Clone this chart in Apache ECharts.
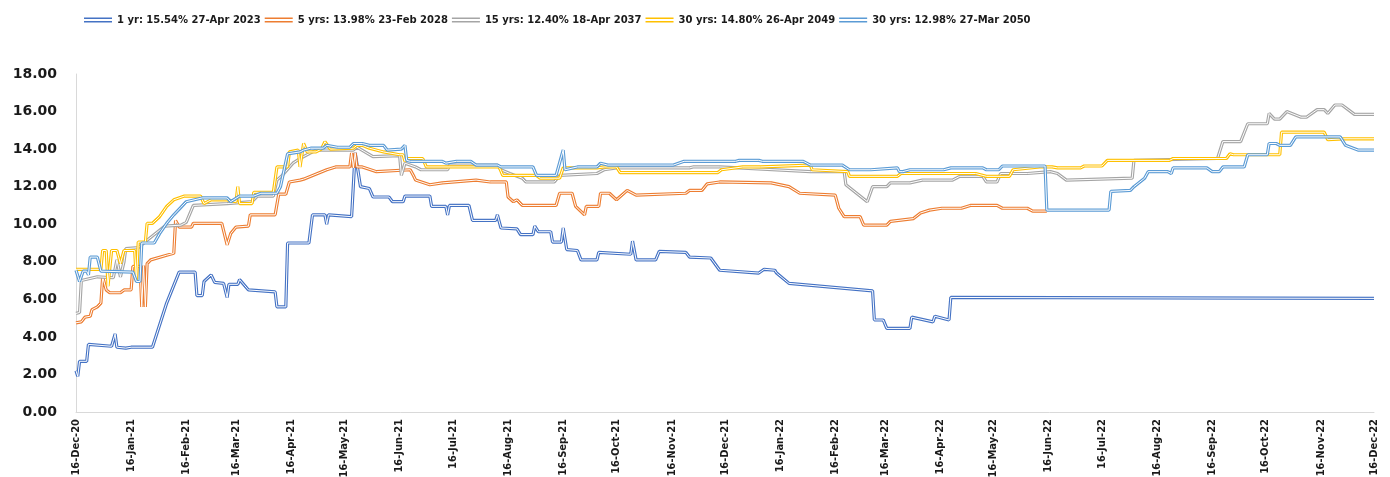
<!DOCTYPE html>
<html>
<head>
<meta charset="utf-8">
<script src="https://cdn.jsdelivr.net/npm/echarts@6/dist/echarts.min.js"></script>
<style>
  html, body { margin: 0; padding: 0; background: #fff; }
  #yield-chart { width: 1390px; height: 477px; }
</style>
</head>
<body>
<div id="yield-chart"></div>
<script>
// series names as in legend
const seriesNames = [
  "1 yr: 15.54% 27-Apr 2023",
  "5 yrs: 13.98% 23-Feb 2028",
  "15 yrs: 12.40% 18-Apr 2037",
  "30 yrs: 14.80% 26-Apr 2049",
  "30 yrs: 12.98% 27-Mar 2050",
];
const colors = ["#4472C4", "#ED7D31", "#A5A5A5", "#FFC000", "#5B9BD5"];

const yTicks = [0, 2, 4, 6, 8, 10, 12, 14, 16, 18];

// values: [date, yield %]
const oneYr = [
  ["2020-12-16", 2.2], ["2020-12-17", 1.9], ["2020-12-18", 2.7], ["2020-12-22", 2.7],
  ["2020-12-23", 3.6], ["2021-01-05", 3.5], ["2021-01-07", 4.15], ["2021-01-08", 3.45],
  ["2021-01-13", 3.4], ["2021-01-14", 3.3], ["2021-01-16", 3.45], ["2021-01-28", 3.45],
  ["2021-02-05", 5.8], ["2021-02-12", 7.45], ["2021-02-21", 7.45], ["2021-02-22", 6.2],
  ["2021-02-25", 6.2], ["2021-02-26", 6.95], ["2021-03-02", 7.3], ["2021-03-04", 6.9],
  ["2021-03-09", 6.85], ["2021-03-11", 6.1], ["2021-03-12", 6.8], ["2021-03-17", 6.8],
  ["2021-03-18", 7.05], ["2021-03-23", 6.5], ["2021-04-07", 6.4], ["2021-04-08", 5.6],
  ["2021-04-13", 5.6], ["2021-04-14", 9.0], ["2021-04-26", 9.0], ["2021-04-28", 10.5],
  ["2021-05-05", 10.5], ["2021-05-06", 10.0], ["2021-05-07", 10.5], ["2021-05-20", 10.4],
  ["2021-05-22", 13.8], ["2021-05-25", 12.0], ["2021-05-30", 11.9], ["2021-06-01", 11.45],
  ["2021-06-10", 11.45], ["2021-06-12", 11.2], ["2021-06-18", 11.2], ["2021-06-19", 11.5],
  ["2021-07-03", 11.5], ["2021-07-04", 10.95], ["2021-07-12", 10.95], ["2021-07-13", 10.5],
  ["2021-07-14", 11.0], ["2021-07-25", 11.0], ["2021-07-27", 10.2], ["2021-08-09", 10.2],
  ["2021-08-10", 10.5], ["2021-08-12", 9.8], ["2021-08-21", 9.75], ["2021-08-23", 9.45],
  ["2021-08-30", 9.45], ["2021-08-31", 9.9], ["2021-09-02", 9.6], ["2021-09-09", 9.6],
  ["2021-09-10", 9.05], ["2021-09-15", 9.05], ["2021-09-16", 9.8], ["2021-09-18", 8.65],
  ["2021-09-24", 8.6], ["2021-09-26", 8.1], ["2021-10-05", 8.1], ["2021-10-06", 8.5],
  ["2021-10-24", 8.4], ["2021-10-25", 9.1], ["2021-10-26", 9.1], ["2021-10-27", 8.1],
  ["2021-11-07", 8.1], ["2021-11-09", 8.55], ["2021-11-24", 8.5], ["2021-11-26", 8.25],
  ["2021-12-08", 8.2], ["2021-12-13", 7.55], ["2022-01-04", 7.4], ["2022-01-07", 7.6],
  ["2022-01-13", 7.55], ["2022-01-14", 7.4], ["2022-01-21", 6.85], ["2022-03-09", 6.45],
  ["2022-03-10", 4.9], ["2022-03-15", 4.9], ["2022-03-17", 4.45], ["2022-03-30", 4.45],
  ["2022-03-31", 5.05], ["2022-04-12", 4.8], ["2022-04-13", 5.1], ["2022-04-21", 4.9],
  ["2022-04-22", 6.1], ["2022-12-16", 6.05],
];

const fiveYr = [
  ["2020-12-16", 4.75], ["2020-12-19", 4.8], ["2020-12-21", 5.05], ["2020-12-24", 5.1],
  ["2020-12-25", 5.45], ["2020-12-28", 5.6], ["2020-12-30", 5.8], ["2020-12-31", 7.2],
  ["2021-01-02", 6.5], ["2021-01-04", 6.35], ["2021-01-10", 6.35], ["2021-01-12", 6.5],
  ["2021-01-16", 6.5], ["2021-01-17", 7.75], ["2021-01-21", 7.75], ["2021-01-22", 5.6],
  ["2021-01-23", 7.8], ["2021-01-24", 5.6], ["2021-01-25", 7.9], ["2021-01-27", 8.1],
  ["2021-02-05", 8.35], ["2021-02-09", 8.45], ["2021-02-10", 10.2], ["2021-02-12", 9.85],
  ["2021-02-19", 9.85], ["2021-02-20", 10.05], ["2021-03-08", 10.05], ["2021-03-11", 8.9],
  ["2021-03-13", 9.5], ["2021-03-16", 9.85], ["2021-03-23", 9.9], ["2021-03-24", 10.5],
  ["2021-04-07", 10.5], ["2021-04-09", 11.6], ["2021-04-13", 11.6], ["2021-04-15", 12.25],
  ["2021-04-21", 12.35], ["2021-04-23", 12.4], ["2021-05-06", 12.9], ["2021-05-11", 13.05],
  ["2021-05-19", 13.05], ["2021-05-20", 13.8], ["2021-05-21", 13.0], ["2021-05-22", 13.8],
  ["2021-05-23", 13.05], ["2021-05-26", 13.05], ["2021-06-03", 12.8], ["2021-06-22", 12.9],
  ["2021-06-24", 12.55], ["2021-06-25", 12.35], ["2021-07-03", 12.1], ["2021-07-10", 12.2],
  ["2021-07-29", 12.35], ["2021-08-06", 12.25], ["2021-08-15", 12.25], ["2021-08-16", 11.45],
  ["2021-08-19", 11.2], ["2021-08-21", 11.3], ["2021-08-24", 11.0], ["2021-09-12", 11.0],
  ["2021-09-14", 11.65], ["2021-09-21", 11.65], ["2021-09-23", 10.95], ["2021-09-28", 10.5],
  ["2021-09-29", 10.95], ["2021-10-06", 10.95], ["2021-10-07", 11.65], ["2021-10-12", 11.65],
  ["2021-10-16", 11.3], ["2021-10-22", 11.8], ["2021-10-27", 11.55], ["2021-11-24", 11.65],
  ["2021-11-26", 11.8], ["2021-12-03", 11.8], ["2021-12-06", 12.15], ["2021-12-13", 12.25],
  ["2022-01-11", 12.2], ["2022-01-21", 12.0], ["2022-01-27", 11.65], ["2022-02-16", 11.55],
  ["2022-02-18", 10.85], ["2022-02-21", 10.4], ["2022-03-02", 10.4], ["2022-03-04", 9.95],
  ["2022-03-17", 9.95], ["2022-03-19", 10.15], ["2022-04-01", 10.3], ["2022-04-05", 10.6],
  ["2022-04-06", 10.5], ["2022-04-10", 10.75], ["2022-04-17", 10.85], ["2022-04-28", 10.85],
  ["2022-05-03", 11.0], ["2022-05-18", 11.0], ["2022-05-21", 10.85], ["2022-06-04", 10.85],
  ["2022-06-07", 10.7], ["2022-06-15", 10.7],
];

const fifteenYr = [
  ["2020-12-16", 5.25], ["2020-12-18", 5.3], ["2020-12-19", 7.0], ["2020-12-28", 7.2],
  ["2021-01-06", 7.15], ["2021-01-08", 8.1], ["2021-01-10", 7.2], ["2021-01-12", 8.0],
  ["2021-01-13", 8.7], ["2021-01-20", 8.75], ["2021-01-25", 9.15], ["2021-02-04", 9.9],
  ["2021-02-13", 9.95], ["2021-02-16", 10.1], ["2021-02-20", 11.0], ["2021-03-11", 11.1],
  ["2021-03-25", 11.2], ["2021-03-28", 11.5], ["2021-04-06", 11.5], ["2021-04-08", 12.35],
  ["2021-04-11", 12.6], ["2021-04-17", 13.25], ["2021-04-21", 13.5], ["2021-04-27", 13.8],
  ["2021-04-30", 13.95], ["2021-05-21", 13.95], ["2021-05-23", 14.1], ["2021-06-01", 13.6],
  ["2021-06-16", 13.65], ["2021-06-17", 12.6], ["2021-06-19", 13.25], ["2021-06-25", 13.05],
  ["2021-06-28", 12.9], ["2021-07-13", 12.9], ["2021-07-14", 13.15], ["2021-08-10", 13.15],
  ["2021-08-12", 12.9], ["2021-08-17", 12.7], ["2021-08-24", 12.45], ["2021-08-26", 12.25],
  ["2021-09-11", 12.25], ["2021-09-14", 12.6], ["2021-10-05", 12.7], ["2021-10-09", 12.9],
  ["2021-10-16", 13.0], ["2021-11-26", 13.0], ["2021-11-28", 13.05], ["2021-12-13", 13.05],
  ["2022-02-02", 12.8], ["2022-02-21", 12.8], ["2022-02-22", 12.1], ["2022-03-06", 11.2],
  ["2022-03-09", 12.0], ["2022-03-17", 12.0], ["2022-03-19", 12.2], ["2022-03-30", 12.2],
  ["2022-04-06", 12.35], ["2022-04-23", 12.35], ["2022-04-27", 12.55], ["2022-05-10", 12.55],
  ["2022-05-12", 12.25], ["2022-05-18", 12.25], ["2022-05-20", 12.7], ["2022-06-04", 12.7],
  ["2022-06-17", 12.8], ["2022-06-21", 12.7], ["2022-06-26", 12.35], ["2022-08-02", 12.45],
  ["2022-08-03", 13.4], ["2022-09-19", 13.5], ["2022-09-22", 14.4], ["2022-10-02", 14.4],
  ["2022-10-06", 15.35], ["2022-10-17", 15.35], ["2022-10-18", 15.9], ["2022-10-21", 15.6],
  ["2022-10-24", 15.6], ["2022-10-28", 16.0], ["2022-11-05", 15.7], ["2022-11-08", 15.7],
  ["2022-11-14", 16.1], ["2022-11-18", 16.1], ["2022-11-20", 15.9], ["2022-11-24", 16.35],
  ["2022-11-28", 16.35], ["2022-12-05", 15.85], ["2022-12-16", 15.85],
];

const thirtyYr49 = [
  ["2020-12-16", 7.6], ["2020-12-30", 7.6], ["2020-12-31", 8.6], ["2021-01-02", 8.6],
  ["2021-01-03", 6.7], ["2021-01-05", 8.6], ["2021-01-08", 8.6], ["2021-01-10", 7.9],
  ["2021-01-12", 8.6], ["2021-01-18", 8.6], ["2021-01-19", 6.95], ["2021-01-20", 9.05],
  ["2021-01-24", 9.05], ["2021-01-25", 10.05], ["2021-01-28", 10.05], ["2021-02-01", 10.4],
  ["2021-02-05", 10.95], ["2021-02-09", 11.3], ["2021-02-15", 11.5], ["2021-02-24", 11.5],
  ["2021-02-26", 11.1], ["2021-03-02", 11.3], ["2021-03-11", 11.3], ["2021-03-16", 11.2],
  ["2021-03-17", 12.0], ["2021-03-18", 11.1], ["2021-03-25", 11.1], ["2021-03-26", 11.7],
  ["2021-04-06", 11.7], ["2021-04-08", 13.05], ["2021-04-14", 13.05], ["2021-04-15", 13.85],
  ["2021-04-20", 13.95], ["2021-04-21", 13.05], ["2021-04-23", 14.3], ["2021-04-25", 13.85],
  ["2021-04-30", 13.85], ["2021-05-03", 14.0], ["2021-05-05", 14.4], ["2021-05-08", 14.0],
  ["2021-05-21", 14.05], ["2021-05-23", 14.2], ["2021-05-26", 14.2], ["2021-05-30", 14.05],
  ["2021-06-07", 13.85], ["2021-06-16", 13.7], ["2021-06-18", 13.7], ["2021-06-19", 13.35],
  ["2021-06-20", 13.5], ["2021-06-29", 13.5], ["2021-07-01", 13.05], ["2021-08-11", 13.05],
  ["2021-08-13", 12.6], ["2021-09-01", 12.6], ["2021-09-03", 12.45], ["2021-09-14", 12.45],
  ["2021-09-16", 13.0], ["2021-10-05", 13.0], ["2021-10-09", 13.05], ["2021-10-16", 13.05],
  ["2021-10-18", 12.75], ["2021-12-12", 12.75], ["2021-12-14", 12.9], ["2021-12-26", 13.05],
  ["2022-01-05", 13.05], ["2022-01-06", 13.15], ["2022-02-02", 13.15], ["2022-02-03", 12.9],
  ["2022-02-23", 12.8], ["2022-02-24", 12.55], ["2022-03-23", 12.55], ["2022-03-25", 12.7],
  ["2022-05-06", 12.7], ["2022-05-12", 12.55], ["2022-05-25", 12.55], ["2022-05-27", 12.9],
  ["2022-06-11", 13.05], ["2022-06-18", 13.05], ["2022-06-21", 13.0], ["2022-07-04", 13.0],
  ["2022-07-06", 13.1], ["2022-07-16", 13.1], ["2022-07-19", 13.4], ["2022-08-23", 13.4],
  ["2022-08-25", 13.5], ["2022-09-24", 13.5], ["2022-09-26", 13.75], ["2022-09-28", 13.7],
  ["2022-10-24", 13.7], ["2022-10-25", 14.9], ["2022-11-18", 14.9], ["2022-11-20", 14.5],
  ["2022-11-29", 14.55], ["2022-12-16", 14.55],
];

const thirtyYr50 = [
  ["2020-12-16", 7.55], ["2020-12-18", 6.95], ["2020-12-20", 7.5], ["2020-12-22", 7.5],
  ["2020-12-23", 7.3], ["2020-12-24", 8.25], ["2020-12-28", 8.25], ["2020-12-30", 7.5],
  ["2021-01-17", 7.45], ["2021-01-19", 6.95], ["2021-01-21", 6.95], ["2021-01-22", 9.0],
  ["2021-01-29", 9.0], ["2021-02-01", 9.5], ["2021-02-05", 10.05], ["2021-02-09", 10.5],
  ["2021-02-13", 10.9], ["2021-02-16", 11.2], ["2021-02-25", 11.4], ["2021-03-11", 11.4],
  ["2021-03-13", 11.2], ["2021-03-18", 11.5], ["2021-03-26", 11.5], ["2021-03-30", 11.65],
  ["2021-04-08", 11.65], ["2021-04-10", 12.0], ["2021-04-14", 13.75], ["2021-04-21", 13.85],
  ["2021-04-23", 13.95], ["2021-04-27", 14.05], ["2021-05-04", 14.05], ["2021-05-06", 14.2],
  ["2021-05-12", 14.1], ["2021-05-19", 14.1], ["2021-05-21", 14.3], ["2021-05-26", 14.3],
  ["2021-05-30", 14.2], ["2021-06-07", 14.2], ["2021-06-09", 13.95], ["2021-06-17", 14.0],
  ["2021-06-19", 14.2], ["2021-06-20", 13.4], ["2021-06-22", 13.35], ["2021-07-10", 13.35],
  ["2021-07-12", 13.25], ["2021-07-18", 13.35], ["2021-07-26", 13.35], ["2021-07-29", 13.15],
  ["2021-08-10", 13.15], ["2021-08-12", 13.05], ["2021-08-30", 13.05], ["2021-09-01", 12.6],
  ["2021-09-12", 12.6], ["2021-09-16", 13.95], ["2021-09-17", 12.9], ["2021-09-24", 13.05],
  ["2021-10-05", 13.05], ["2021-10-07", 13.25], ["2021-10-11", 13.15], ["2021-11-17", 13.15],
  ["2021-11-23", 13.35], ["2021-12-22", 13.35], ["2021-12-24", 13.4], ["2022-01-04", 13.4],
  ["2022-01-06", 13.35], ["2022-01-29", 13.35], ["2022-02-02", 13.15], ["2022-02-20", 13.15],
  ["2022-02-24", 12.9], ["2022-03-08", 12.9], ["2022-03-09", 13.0], ["2022-03-23", 13.0],
  ["2022-03-24", 12.8], ["2022-03-26", 12.8], ["2022-03-30", 12.9], ["2022-04-18", 12.9],
  ["2022-04-22", 13.0], ["2022-05-10", 13.0], ["2022-05-12", 12.9], ["2022-05-19", 12.9],
  ["2022-05-21", 13.1], ["2022-06-14", 13.1], ["2022-06-15", 10.75], ["2022-07-20", 10.75],
  ["2022-07-21", 11.75], ["2022-07-22", 11.8], ["2022-08-01", 11.8], ["2022-08-03", 12.0],
  ["2022-08-09", 12.45], ["2022-08-11", 12.8], ["2022-08-22", 12.8], ["2022-08-24", 12.7],
  ["2022-08-25", 13.0], ["2022-09-13", 13.0], ["2022-09-16", 12.8], ["2022-09-20", 12.8],
  ["2022-09-22", 13.05], ["2022-10-04", 13.05], ["2022-10-06", 13.7], ["2022-10-17", 13.7],
  ["2022-10-18", 14.3], ["2022-10-22", 14.3], ["2022-10-24", 14.2], ["2022-10-30", 14.2],
  ["2022-11-02", 14.65], ["2022-11-27", 14.65], ["2022-11-30", 14.2], ["2022-12-07", 13.95],
  ["2022-12-16", 13.95],
];

const allData = [oneYr, fiveYr, fifteenYr, thirtyYr49, thirtyYr50];

// daily categories for the x axis
const monthNames = ["Jan", "Feb", "Mar", "Apr", "May", "Jun", "Jul", "Aug", "Sep", "Oct", "Nov", "Dec"];
function buildDays(start, end) {
  const list = [];
  let t = Date.UTC(start[0], start[1] - 1, start[2]);
  const stop = Date.UTC(end[0], end[1] - 1, end[2]);
  while (t <= stop) {
    list.push(new Date(t).toISOString().slice(0, 10));
    t += 24 * 3600 * 1000;
  }
  return list;
}
const days = buildDays([2020, 12, 16], [2022, 12, 16]);

function dayLabel(s) {
  const p = s.split("-");
  return p[2] + "-" + monthNames[+p[1] - 1] + "-" + p[0].slice(2);
}

const series = [];
allData.forEach((d, i) => {
  // excel style double line: coloured band with a thin white core
  series.push({
    name: seriesNames[i],
    type: "line",
    data: d,
    symbol: "none",
    itemStyle: { color: colors[i] },
    lineStyle: { color: colors[i], width: 3.2 },
  });
  series.push({
    name: seriesNames[i] + " core",
    type: "line",
    data: d,
    symbol: "none",
    silent: true,
    itemStyle: { color: "#ffffff" },
    lineStyle: { color: "#ffffff", width: 1 },
  });
});

const chart = echarts.init(document.getElementById("yield-chart"));
chart.setOption({
  animation: false,
  backgroundColor: "#ffffff",
  legend: {
    data: seriesNames,
    left: 79,
    top: 10,
    icon: "path://M0,0H28V1.6H0Z M0,3.4H28V5H0Z",
    itemWidth: 28,
    itemHeight: 5,
    itemGap: 4,
    textStyle: {
      fontFamily: "DejaVu Sans",
      fontWeight: "bold",
      fontSize: 10,
      color: "#1a1a1a",
    },
  },
  grid: {
    left: 76, right: 16, top: 74, bottom: 65,
    containLabel: false,
    outerBoundsMode: "none",
  },
  xAxis: {
    type: "category",
    data: days,
    boundaryGap: false,
    axisLine: { lineStyle: { color: "#D9D9D9", width: 1 } },
    axisTick: { show: false },
    splitLine: { show: false },
    axisLabel: {
      interval: (idx, val) => val.slice(8) === "16",
      formatter: dayLabel,
      rotate: 90,
      margin: 7,
      fontFamily: "'Liberation Sans Narrow', 'DejaVu Sans Condensed', sans-serif",
      fontWeight: "bold",
      fontSize: 11,
      color: "#1a1a1a",
    },
  },
  yAxis: {
    type: "value",
    min: yTicks[0],
    max: yTicks[yTicks.length - 1],
    interval: yTicks[1] - yTicks[0],
    axisLine: { show: true, lineStyle: { color: "#D9D9D9", width: 1 } },
    axisTick: { show: false },
    splitLine: { show: false },
    axisLabel: {
      formatter: (v) => v.toFixed(2),
      margin: 19,
      fontFamily: "DejaVu Sans",
      fontWeight: "bold",
      fontSize: 14,
      color: "#1a1a1a",
    },
  },
  series: series,
});
</script>
</body>
</html>
